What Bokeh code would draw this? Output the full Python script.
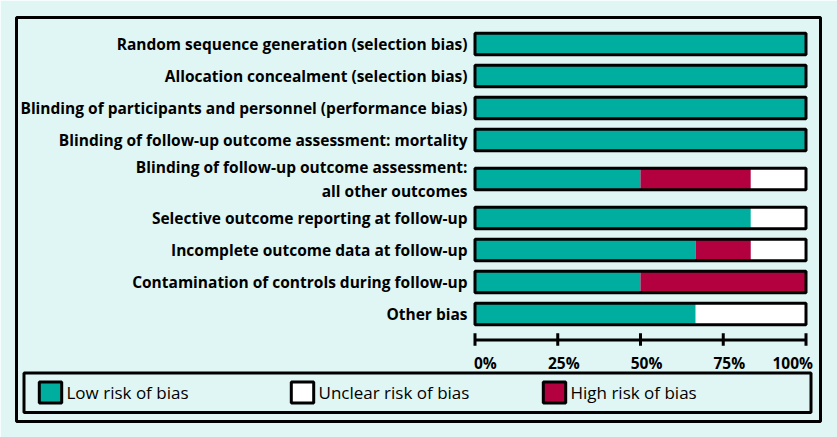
from bokeh.plotting import figure
from bokeh.models import Range1d, Legend, LegendItem
from bokeh.core.properties import value
from bokeh.embed import file_html
from bokeh.resources import INLINE

# ---------------- data ----------------
categories = [
    "Random sequence generation (selection bias)",
    "Allocation concealment (selection bias)",
    "Blinding of participants and personnel (performance bias)",
    "Blinding of follow-up outcome assessment: mortality",
    "Blinding of follow-up outcome assessment:\nall other outcomes",
    "Selective outcome reporting at follow-up",
    "Incomplete outcome data at follow-up",
    "Contamination of controls during follow-up",
    "Other bias",
]
low_risk = [100, 100, 100, 100, 50, 83.33, 66.67, 50, 66.67]
high_risk = [0, 0, 0, 0, 33.33, 0, 16.67, 50, 0]
unclear_risk = [0, 0, 0, 0, 16.67, 16.67, 16.67, 0, 33.33]
x_ticks = [0, 25, 50, 75, 100]
x_tick_labels = ["0%", "25%", "50%", "75%", "100%"]
legend_labels = ["Low risk of bias", "Unclear risk of bias", "High risk of bias"]

# ---------------- styles ----------------
BG = "#dff6f4"
TEAL = "#00ae9f"
RED = "#b3003f"
WHITE = "#ffffff"
FONT = "Open Sans"

# ---------------- layout (pixels) ----------------
W, H = 837, 437
FL, FR, FT, FB = 16, 820, 17, 421            # frame = outer box
X0_PX, X100_PX = 474.5, 805.5                # 0% and 100% positions
ROW0_PX, ROW_STEP = 43.5, 32.0               # first row centre, row pitch

k = (X100_PX - X0_PX) / 100.0
x_start = (FL - X0_PX) / k
x_end = 100 + (FR - X100_PX) / k
y_top = (FT - ROW0_PX) / ROW_STEP
y_bottom = (FB - ROW0_PX) / ROW_STEP


def px_x(px):
    return (px - X0_PX) / k


def px_y(px):
    return (px - ROW0_PX) / ROW_STEP


# row positions (extra room around the two-line label)
ypos = []
pos = 0.0
for i, c in enumerate(categories):
    if i > 0:
        pos += 1.0
        if "\n" in c or "\n" in categories[i - 1]:
            pos += 0.22
    ypos.append(pos)

n = len(categories)
low_right = [low_risk[i] for i in range(n)]
high_left = low_right
high_right = [low_risk[i] + high_risk[i] for i in range(n)]
unc_left = high_right
unc_right = [low_risk[i] + high_risk[i] + unclear_risk[i] for i in range(n)]

p = figure(width=W, height=H,
           x_range=Range1d(x_start, x_end), y_range=Range1d(y_bottom, y_top),
           x_axis_location=None, y_axis_location=None,
           min_border_left=FL, min_border_right=W - FR,
           min_border_top=FT, min_border_bottom=H - FB,
           toolbar_location=None, output_backend="svg",
           background_fill_color=BG, border_fill_color=BG,
           outline_line_color="black", outline_line_width=3)
p.xgrid.visible = False
p.ygrid.visible = False

BAR_H = 21.5 / ROW_STEP
p.hbar(y=ypos, left=[0] * n, right=low_right, height=BAR_H, fill_color=TEAL, line_color=None)
p.hbar(y=ypos, left=high_left, right=high_right, height=BAR_H, fill_color=RED, line_color=None)
p.hbar(y=ypos, left=unc_left, right=unc_right, height=BAR_H, fill_color=WHITE, line_color=None)
p.hbar(y=ypos, left=[0] * n, right=unc_right, height=BAR_H, fill_color=None,
       line_color="black", line_width=3)

# category labels
p.text(x=[0] * n, y=ypos, text=categories, x_offset=-7.5,
       text_align="right", text_baseline="middle",
       text_font=value(FONT), text_font_style="bold", text_font_size="15.5px",
       text_color="black", text_line_height=1.06)

# percentage axis
axis_y = ypos[-1] + 25.8 / ROW_STEP
p.segment(x0=[min(x_ticks)], x1=[max(x_ticks)], y0=[axis_y], y1=[axis_y],
          line_color="black", line_width=3)
p.segment(x0=x_ticks, x1=x_ticks, y0=[axis_y - 6.6 / ROW_STEP] * len(x_ticks),
          y1=[axis_y + 5.8 / ROW_STEP] * len(x_ticks), line_color="black", line_width=3)
nt = len(x_ticks)
tick_align = ["left" if i == 0 else ("right" if i == nt - 1 else "center") for i in range(nt)]
tick_shift = {"left": -1, "center": 6, "right": 7}
p.text(x=x_ticks, y=[axis_y + 23 / ROW_STEP] * nt, text=x_tick_labels,
       text_align=tick_align, x_offset=[tick_shift[a] for a in tick_align],
       text_baseline="middle",
       text_font=value(FONT), text_font_style="bold", text_font_size="15.5px",
       text_color="black")

# legend box
p.quad(left=[px_x(23.5)], right=[px_x(810.5)], top=[px_y(372.5)], bottom=[px_y(412)],
       fill_color=None, line_color="black", line_width=3)

# legend-only renderers (no drawable data: NaN positions)
nan = float("nan")
leg_colors = [TEAL, WHITE, RED]
leg_rs = []
for c in leg_colors:
    r = p.hbar(y=[nan], left=[nan], right=[nan], height=1, fill_color=c,
               line_color="black", line_width=3)
    leg_rs.append(r)

legend = Legend(items=[LegendItem(label=l, renderers=[r]) for l, r in zip(legend_labels, leg_rs)],
                orientation="horizontal", location=(35.5 - FL, FB - 405.25),
                border_line_color=None, background_fill_alpha=0, padding=0, margin=0,
                spacing=0, glyph_width=28, glyph_height=26, label_standoff=3,
                label_width=221, label_height=21,
                label_text_font=FONT, label_text_font_size="17px", label_text_color="black")
p.add_layout(legend)

html = file_html(p, INLINE)
html = html.replace("<body>", '<body style="background-color:%s;">' % BG, 1)
open("out.html", "w").write(html)
